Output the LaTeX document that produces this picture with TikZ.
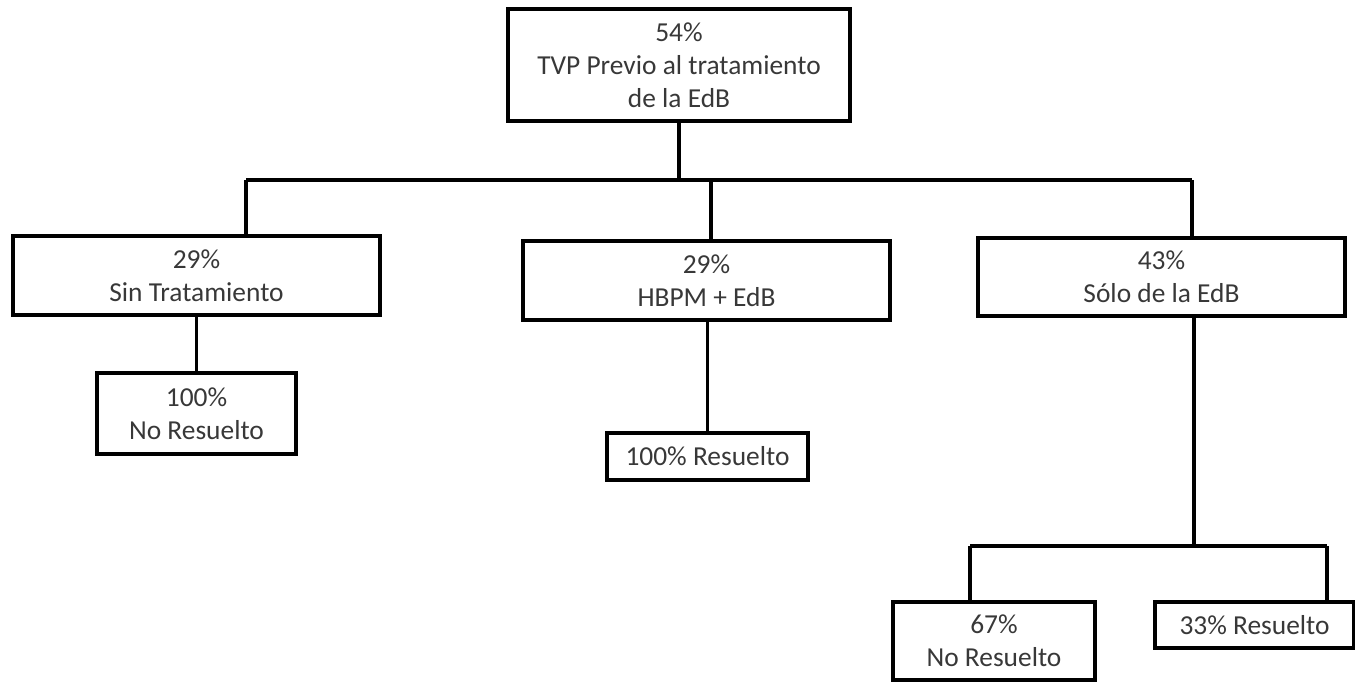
\documentclass[tikz,border=0pt]{standalone}
\usepackage{fontspec}
\setmainfont{Carlito}
\usepackage{tikz}
\usetikzlibrary{positioning}

\begin{document}
\begin{tikzpicture}[
  x=0.02cm, y=-0.02cm,
  font=\fontsize{15.6}{18.7}\selectfont,
  box/.style={
    draw, line width=1.9pt,
    align=center, inner sep=0pt, text=black!78
  },
  link/.style={line width=1.9pt},
]
\useasboundingbox (0,0) rectangle (1355,683);

%% Level 0 — root
\node[box, minimum width=6.84cm, minimum height=2.24cm] (root)
    at (679,65) {54\%\\TVP Previo al tratamiento\\de la EdB};

%% Level 1 — treatment groups
\node[box, minimum width=7.34cm, minimum height=1.58cm] (sintrat)
    at (196.5,275.5) {29\%\\Sin Tratamiento};
\node[box, minimum width=7.34cm, minimum height=1.58cm] (hbpm)
    at (706.5,280.5) {29\%\\HBPM + EdB};
\node[box, minimum width=7.34cm, minimum height=1.56cm] (solo)
    at (1161.5,277) {43\%\\Sólo de la EdB};

%% Level 2 — outcomes
\node[box, minimum width=3.98cm, minimum height=1.62cm] (nores1)
    at (196.5,413.5) {100\%\\No Resuelto};
\node[box, minimum width=4.02cm, minimum height=0.94cm] (res1)
    at (707.5,456.5) {100\% Resuelto};
\node[box, minimum width=4.04cm, minimum height=1.56cm] (nores2)
    at (994,641) {67\%\\No Resuelto};
\node[box, minimum width=3.98cm, minimum height=0.92cm] (res2)
    at (1254.5,625) {33\% Resuelto};

%% Bus points
\coordinate (busL)  at (246,180);
\coordinate (busR)  at (1192,180);
\coordinate (busM)  at (711,180);
\coordinate (split) at (1194,546);
\coordinate (bus2L) at (970,546);
\coordinate (bus2R) at (1327,546);

%% Root -> level 1
\draw[link] (root) -- (root |- busL);
\draw[link] (busL) -- (busR);
\draw[link] (busL) -- (busL |- sintrat.north);
\draw[link] (busM) -- (busM |- hbpm.north);
\draw[link] (busR) -- (busR |- solo.north);

%% Level 1 -> level 2
\draw[link] (nores1.north) -- (nores1.north |- sintrat.south);
\draw[link] (res1.north) -- (res1.north |- hbpm.south);
\draw[link] (split |- solo.south) -- (split);
\draw[link] (bus2L) -- (bus2R);
\draw[link] (bus2L) -- (bus2L |- nores2.north);
\draw[link] (bus2R) -- (bus2R |- res2.north);
\end{tikzpicture}
\end{document}
